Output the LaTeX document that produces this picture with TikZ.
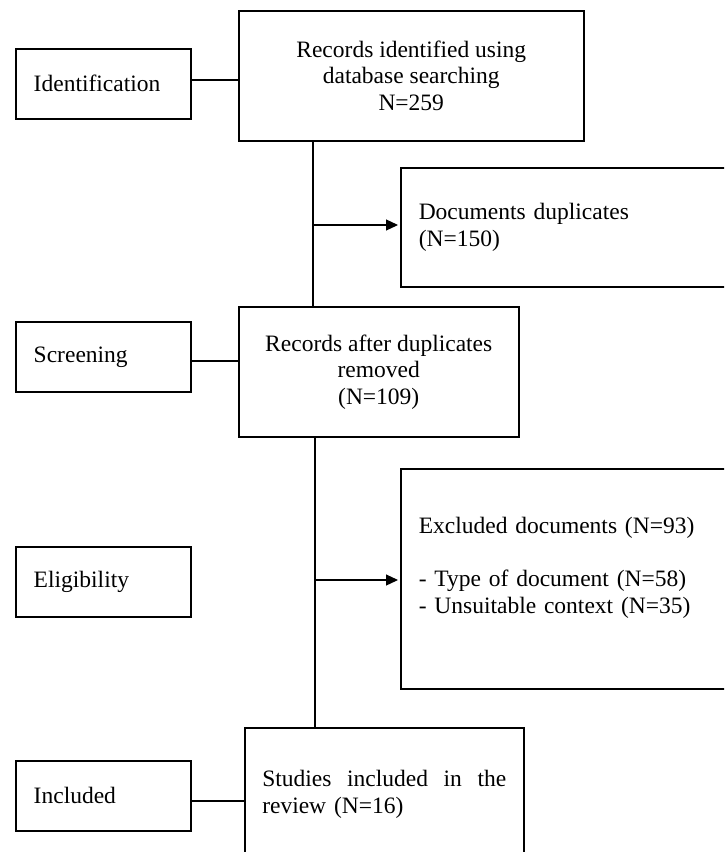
\documentclass[tikz,border=0pt]{standalone}
\usepackage{fontspec}
\setmainfont{Liberation Serif}
\usetikzlibrary{arrows.meta,calc}
\begin{document}
\begin{tikzpicture}[x=1pt,y=-1pt,
  box/.style={draw,line width=1.5pt,inner sep=0pt,anchor=north west},
  side/.style={draw,line width=1.5pt,minimum height=70pt,text width=139pt,inner xsep=18pt,inner ysep=0pt,align=left,anchor=north west},
  link/.style={line width=1.5pt},
  arr/.style={line width=1.2pt,-{Triangle[length=12pt,width=11pt]},shorten >=2pt},
  font=\fontsize{23.5}{26.5}\selectfont]
\fill[white] (0,0) rectangle (724,852);
\useasboundingbox (0,0) rectangle (724,852);
\clip (0,0) rectangle (724,852);

\node[box,minimum width=345pt,minimum height=130pt,align=center] (top) at (238,10) {Records identified using\\database searching\\N=259};
\node[box,minimum width=280pt,minimum height=130pt,align=center] (rem) at (238,306) {Records after duplicates\\removed\\(N=109)};
\node[box,text width=324pt,inner xsep=18pt,minimum height=119pt,align=left] (dup) at (400,167) {Documents duplicates\\(N=150)};
\node[box,text width=324pt,inner xsep=18pt,minimum height=220pt,align=left] (excl) at (400,468) {Excluded documents (N=93)\\\mbox{}\\- Type of document (N=58)\\- Unsuitable context (N=35)\\\mbox{}};
\node[box,text width=244pt,inner xsep=17.5pt,minimum height=133pt,align=left] (stud) at (244,727) {Studies\hfill included\hfill in\hfill the\\review (N=16)};

\node[side] (ident) at (15,48) {Identification};
\node[side] (scr) at (15,321) {Screening};
\node[side] (elig) at (15,546) {Eligibility};
\node[side] (inc) at (15,760) {Included};

\draw[link] ([yshift=4pt]ident.east) -- ([yshift=4pt]ident.east -| top.west);
\draw[link] ([yshift=-4pt]scr.east) -- ([yshift=-4pt]scr.east -| rem.west);
\draw[link] ([yshift=-5pt]inc.east) -- ([yshift=-5pt]inc.east -| stud.west);

\coordinate (j1) at (313,225);
\draw[link] (top.south -| j1) -- (rem.north -| j1);
\draw[arr] (j1) -- (dup.west |- j1);
\coordinate (j2) at (315,580);
\draw[link] (rem.south -| j2) -- (stud.north -| j2);
\draw[arr] (j2) -- (excl.west |- j2);
\end{tikzpicture}
\end{document}
